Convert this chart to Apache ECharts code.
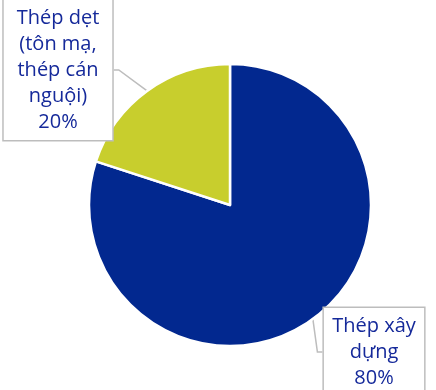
<!DOCTYPE html>
<html>
<head>
<meta charset="utf-8">
<script src="https://cdn.jsdelivr.net/npm/echarts@6/dist/echarts.min.js"></script>
<style>html,body{margin:0;padding:0;background:#fff}#c{width:436px;height:390px}</style>
</head>
<body>
<div id="c"></div>
<script>
const categories = ['Thép xây\ndựng', 'Thép dẹt\n(tôn mạ,\nthép cán\nnguội)'];
const values = [80, 20];
const colors = ['#02288F', '#C8CE2D'];

const chart = echarts.init(document.getElementById('c'));
chart.setOption({
  animation: false,
  series: [{
    type: 'pie',
    center: [230, 205],
    radius: [0, 141],
    startAngle: 90,
    clockwise: true,
    itemStyle: { borderColor: '#fff', borderWidth: 2.5 },
    data: categories.map((c, i) => ({ name: c, value: values[i], itemStyle: { color: colors[i] } })),
    label: {
      show: true,
      formatter: p => p.name + '\n' + p.value + '%',
      color: '#15299A',
      fontFamily: 'Open Sans',
      fontWeight: 500,
      fontSize: 20,
      lineHeight: 26,
      align: 'center',
      overflow: 'none',
      backgroundColor: '#fff',
      borderColor: '#BDBDBD',
      borderWidth: 1.5,
      padding: [5, 13, 5, 13]
    },
    labelLine: { show: true, lineStyle: { color: '#BDBDBD', width: 1.5 }, length: 5, length2: 5 },
    labelLayout: function (p) {
      if (p.dataIndex === 0) return { x: 374, y: 352, align: 'center', verticalAlign: 'middle' };
      return { x: 58, y: 70, align: 'center', verticalAlign: 'middle' };
    }
  }]
});
</script>
</body>
</html>
